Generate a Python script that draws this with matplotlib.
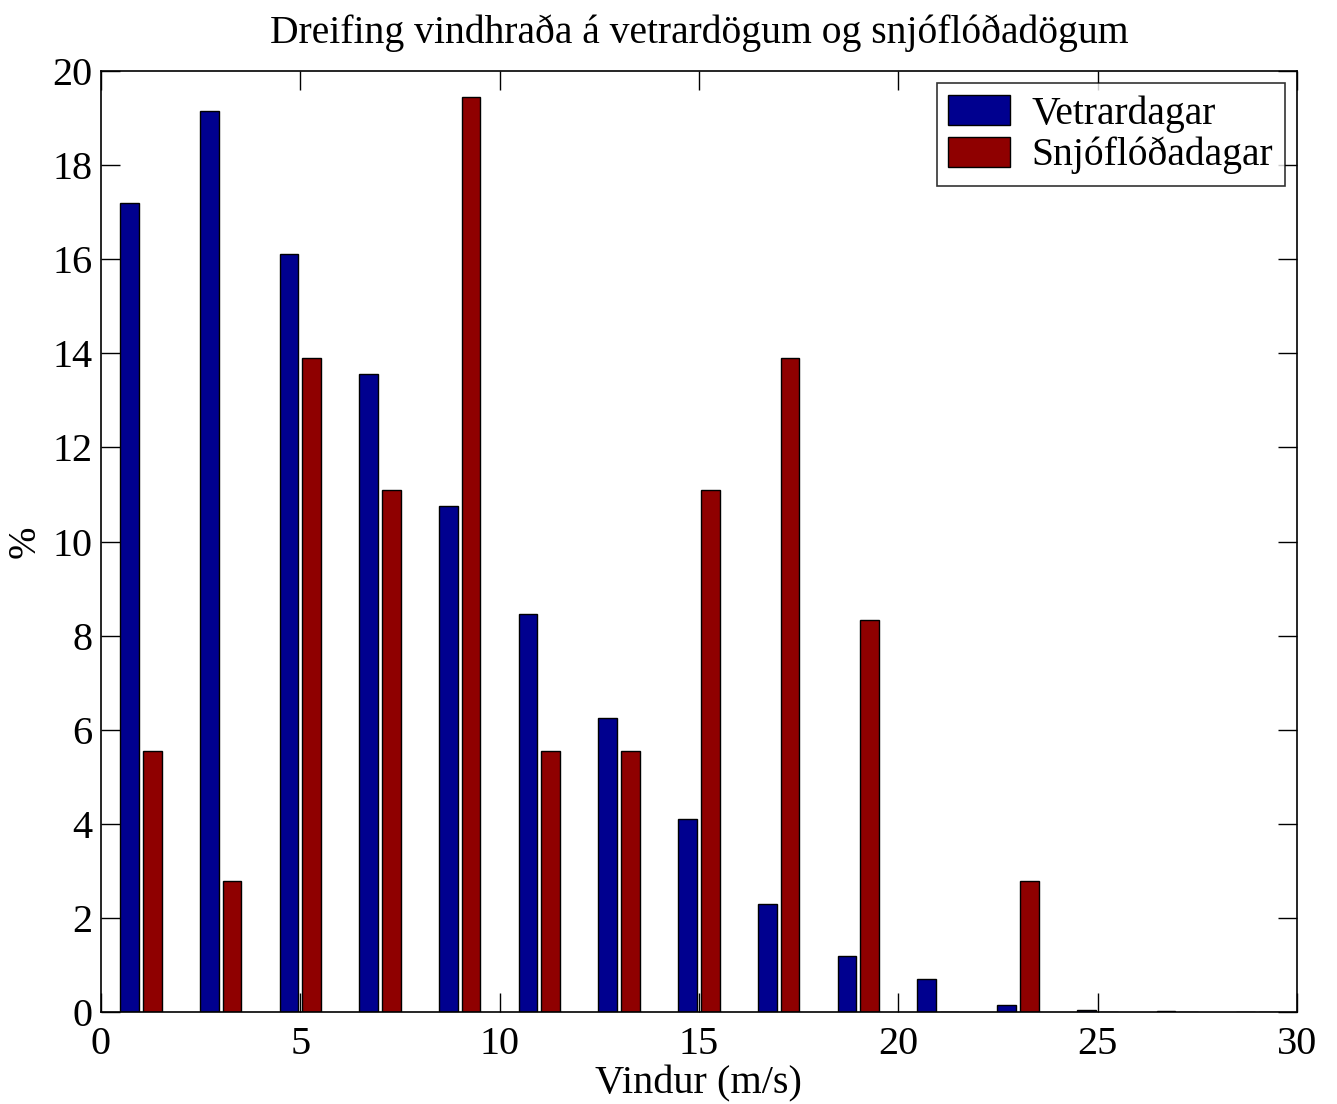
import matplotlib
matplotlib.use("Agg")
import matplotlib.pyplot as plt
import numpy as np

centers = [1, 3, 5, 7, 9, 11, 13, 15, 17, 19, 21, 23, 25, 27, 29]
vetrardagar = [17.2, 19.15, 16.1, 13.55, 10.75, 8.45, 6.25, 4.1, 2.3, 1.2, 0.7, 0.15, 0.05, 0.02, 0.01]
snjofloddagar = [5.55, 2.78, 13.9, 11.1, 19.45, 5.55, 5.55, 11.1, 13.9, 8.33, 0.0, 2.78, 0.0, 0.0, 0.0]
xticks = [0, 5, 10, 15, 20, 25, 30]
yticks = [0, 2, 4, 6, 8, 10, 12, 14, 16, 18, 20]

plt.rcParams['font.family'] = ['Liberation Serif', 'DejaVu Serif']

fig = plt.figure(figsize=(13.37, 11.04), dpi=100)
ax = fig.add_axes([0.0755, 0.0833, 0.8945, 0.8524])

c = np.array(centers, dtype=float)
w = 0.47
off = 0.285
ax.bar(c - off, vetrardagar, width=w, color='#00008f', edgecolor='black', linewidth=1.0, label='Vetrardagar')
ax.bar(c + off, snjofloddagar, width=w, color='#8f0000', edgecolor='black', linewidth=1.0, label='Snjóflóðadagar')

ax.set_xlim(0, 30)
ax.set_ylim(0, 20)
ax.set_xticks(xticks)
ax.set_yticks(yticks)
ax.tick_params(direction='in', length=14, width=1, labelsize=29, top=True, right=True)
ax.tick_params(axis='y', pad=6)
ax.tick_params(axis='x', pad=10)
for s in ax.spines.values():
    s.set_linewidth(1.2)

ax.set_title('Dreifing vindhraða á vetrardögum og snjóflóðadögum', fontsize=28.5, pad=20)
ax.set_xlabel('Vindur (m/s)', fontsize=29, labelpad=2)
ax.set_ylabel('%', fontsize=28, labelpad=6)

leg = ax.legend(loc='upper right', fontsize=28.5, frameon=True, fancybox=False,
                edgecolor='black', handlelength=1.55, handleheight=0.8,
                borderaxespad=0.3, labelspacing=0.1, borderpad=0.3, handletextpad=0.55)
leg.get_frame().set_linewidth(1.2)

fig.savefig('out.png', dpi=100)
